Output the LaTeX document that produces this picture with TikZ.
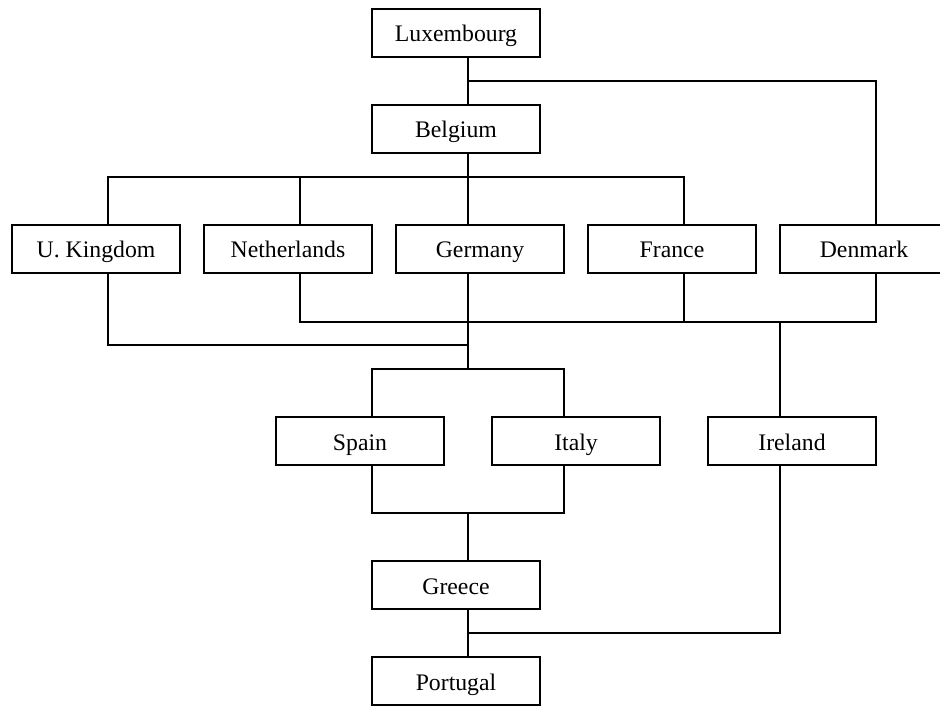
\documentclass[tikz,border=0pt]{standalone}
\usepackage{fontspec}
\setmainfont{Liberation Serif}
\usepackage{tikz}
\tikzset{country/.style={draw, line width=1pt, minimum width=126pt, minimum height=36pt,
    inner sep=0pt, text height=16pt, text depth=2.5pt, font=\fontsize{17.8}{21}\selectfont}}

\begin{document}
\begin{tikzpicture}[x=0.75pt, y=-0.75pt, line width=1pt]
      \def\dx{9pt}
      \useasboundingbox (0,0) rectangle (940,706);
      % Countries
      \foreach \n/\x/\y/\t in {lux/456/33/Luxembourg, bel/456/129/Belgium,
          uk/96/249/U. Kingdom, ned/288/249/Netherlands, ger/480/249/Germany,
          fra/672/249/France, den/864/249/Denmark,
          spa/360/441/Spain, ita/576/441/Italy, ire/792/441/Ireland,
          gre/456/585/Greece, por/456/681/Portugal}{
          \node[country] (\n) at (\x,\y) {\t};
        }
      % Ports
      \foreach \n/\s in {lux/1, bel/1, uk/1, ned/1, ger/-1, fra/1, den/1,
          spa/1, ita/-1, ire/-1, gre/1, por/1}{
          \coordinate (\n-t) at ([xshift=\s*\dx]\n.north);
          \coordinate (\n-b) at ([xshift=\s*\dx]\n.south);
        }
      % Bus levels
      \coordinate (tapLux) at (0,81);
      \coordinate (busBel) at (0,177);
      \coordinate (busLow) at (0,322);
      \coordinate (busUK) at (0,345);
      \coordinate (busTop) at (0,369);
      \coordinate (busBot) at (0,513);
      \coordinate (tapGre) at (0,633);
      % Links
      \draw (lux-b) -- (bel-t);
      \draw (lux-b |- tapLux) -| (den-t);
      \draw (bel-b) -- (bel-b |- busBel);
      \draw (uk-t) |- (fra-t |- busBel) -- (fra-t);
      \draw (ned-t) -- (ned-t |- busBel);
      \draw (ger-t) -- (ger-t |- busBel);
      \draw (ned-b) |- (den-b |- busLow) -- (den-b);
      \draw (fra-b) -- (fra-b |- busLow);
      \draw (ire-t) -- (ire-t |- busLow);
      \draw (uk-b) |- (ger-b |- busUK);
      \draw (ger-b) -- (ger-b |- busTop);
      \draw (spa-t) |- (ita-t |- busTop) -- (ita-t);
      \draw (spa-b) |- (ita-b |- busBot) -- (ita-b);
      \draw (gre-t |- busBot) -- (gre-t);
      \draw (gre-b) -- (por-t);
      \draw (gre-b |- tapGre) -| (ire-b);
    \end{tikzpicture}
\end{document}
